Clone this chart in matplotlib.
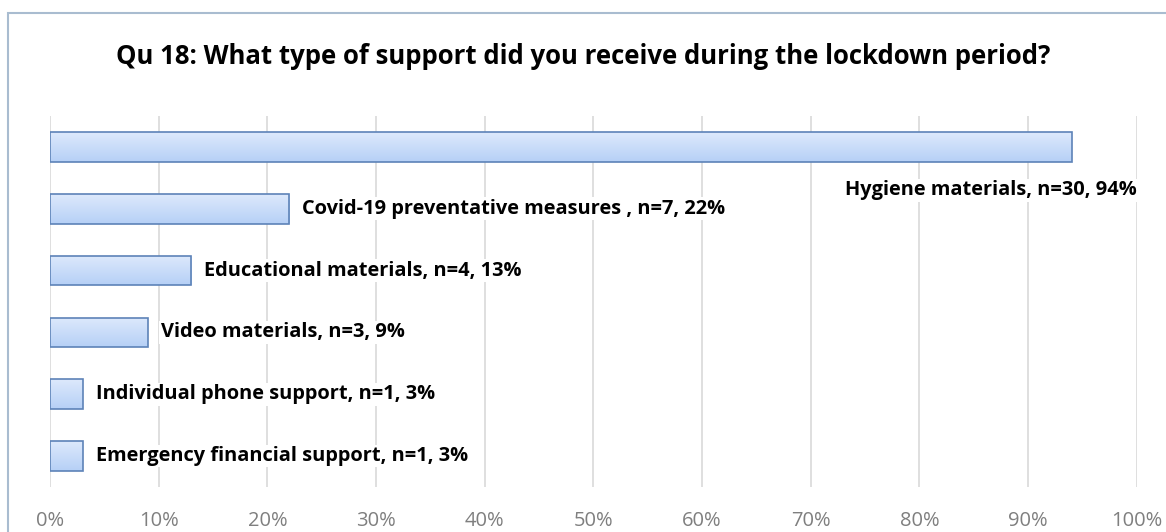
import numpy as np
import matplotlib
matplotlib.use("Agg")
import matplotlib.pyplot as plt
from matplotlib.patches import Rectangle
from matplotlib.colors import LinearSegmentedColormap

categories = ["Hygiene materials", "Covid-19 preventative measures ", "Educational materials",
              "Video materials", "Individual phone support", "Emergency financial support"]
counts = [30, 7, 4, 3, 1, 1]
percents = [94, 22, 13, 9, 3, 3]
ticks = list(range(0, 101, 10))

plt.rcParams['font.family'] = ['Open Sans', 'DejaVu Sans']

fig = plt.figure(figsize=(11.66, 5.32), dpi=100)
ax = fig.add_axes([0.0429, 0.0846, 0.9321, 0.6974])

# outer frame of the chart
fig.patches.append(Rectangle((8 / 1166, -0.1), 1.2, 1 - 13 / 532 + 0.1, transform=fig.transFigure,
                             fill=False, edgecolor='#a9bcd0', linewidth=1.5))

# light on top, a bit deeper towards the bottom
cmap = LinearSegmentedColormap.from_list('bar', ['#b6d0f6', '#dde9fc'])
grad = np.linspace(0, 1, 64).reshape(-1, 1)

y = np.arange(len(categories))
bars = ax.barh(y, percents, height=0.48, color='none', edgecolor='#5d83b8', linewidth=1.2, zorder=3)
for b in bars:
    x0, y0, w, h = b.get_x(), b.get_y(), b.get_width(), b.get_height()
    im = ax.imshow(grad, extent=(x0, x0 + w, y0 + h, y0), cmap=cmap, aspect='auto',
                   origin='lower', zorder=2)
    im.set_clip_path(b)

for i, (c, n, p) in enumerate(zip(categories, counts, percents)):
    label = f"{c}, n={n}, {p}%"
    if i == 0:
        ax.text(100, i + 0.7, label, ha='right', va='center', fontsize=14.4, fontweight='bold',
                bbox=dict(facecolor='white', edgecolor='none', pad=1), zorder=4)
    else:
        ax.text(p + 1.2, i, label, ha='left', va='center', fontsize=14.4, fontweight='bold',
                bbox=dict(facecolor='white', edgecolor='none', pad=1), zorder=4)

ax.set_xlim(0, 100)
ax.set_ylim(len(categories) - 0.5, -0.5)
ax.set_xticks(ticks)
ax.set_xticklabels([f"{t}%" for t in ticks], color='#7f7f7f', fontsize=14.5)
ax.set_yticks([])
ax.tick_params(axis='x', length=0, pad=17)
ax.grid(axis='x', color='#d9d9d9', linewidth=1.2, zorder=0)
ax.set_axisbelow(True)
for s in ax.spines.values():
    s.set_visible(False)

fig.text(0.5, 1 - 57 / 532, "Qu 18: What type of support did you receive during the lockdown period?",
         ha='center', va='center', fontsize=18.5, fontweight='bold')

fig.savefig("out.png", dpi=100)
